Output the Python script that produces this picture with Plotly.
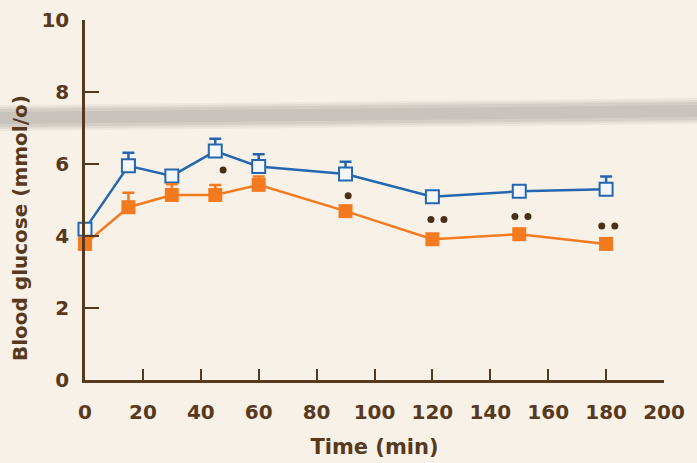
import plotly.graph_objects as go

# ---- data ----
time_min = [0, 15, 30, 45, 60, 90, 120, 150, 180]
blue_vals = [4.19, 5.95, 5.67, 6.36, 5.93, 5.72, 5.09, 5.24, 5.30]
blue_err = [0, 0.36, 0, 0.34, 0.34, 0.34, 0, 0, 0.35]
orange_vals = [3.78, 4.80, 5.14, 5.14, 5.42, 4.69, 3.91, 4.05, 3.78]
orange_err = [0, 0.40, 0.30, 0.28, 0.23, 0, 0, 0, 0]
sig_x = [47.7, 90.9, 119.5, 124.0, 148.5, 153.0, 178.5, 183.0]
sig_y = [5.83, 5.12, 4.46, 4.46, 4.54, 4.54, 4.28, 4.28]
x_ticks = [0, 20, 40, 60, 80, 100, 120, 140, 160, 180, 200]
y_ticks = [0, 2, 4, 6, 8, 10]

BROWN = "#57391d"
BLUE = "#2467b0"
ORANGE = "#f47a1f"
BG = "#f7f1e8"
FONT = "DejaVu Sans"

fig = go.Figure()

fig.add_trace(go.Scatter(
    x=time_min, y=blue_vals, mode="lines+markers",
    line=dict(color=BLUE, width=2.5),
    marker=dict(symbol="square", size=13, color="#f4f6fa",
                line=dict(color=BLUE, width=2)),
    error_y=dict(type="data", symmetric=False, array=blue_err,
                 arrayminus=[0] * len(blue_err), color=BLUE,
                 thickness=2.5, width=6),
    cliponaxis=False, showlegend=False))

fig.add_trace(go.Scatter(
    x=time_min, y=orange_vals, mode="lines+markers",
    line=dict(color=ORANGE, width=2.5),
    marker=dict(symbol="square", size=14, color=ORANGE,
                line=dict(color=ORANGE, width=0)),
    error_y=dict(type="data", symmetric=False, array=orange_err,
                 arrayminus=[0] * len(orange_err), color=ORANGE,
                 thickness=2.5, width=6),
    cliponaxis=False, showlegend=False))

fig.add_trace(go.Scatter(
    x=sig_x, y=sig_y, mode="markers",
    marker=dict(symbol="circle", size=7, color="#4a2f18"),
    cliponaxis=False, showlegend=False))

# wooden-plank style grey band in the background
L, T, R, B = 85, 20, 33, 83
W, H = 697, 463
pw, ph = W - L - R, H - T - B

def px2paper(px, py):
    return (px - L) / pw, (H - B - py) / ph

shapes = []
for half, op in [(13, 0.09), (11, 0.12), (9, 0.14), (6, 0.14)]:
    x0, y0a = px2paper(0, 118 - half)
    _, y0b = px2paper(0, 118 + half)
    x1, y1a = px2paper(W, 111 - half)
    _, y1b = px2paper(W, 111 + half)
    shapes.append(dict(
        type="path", xref="paper", yref="paper", layer="below",
        path=f"M {x0},{y0a} L {x1},{y1a} L {x1},{y1b} L {x0},{y0b} Z",
        fillcolor="#8a8480", opacity=op, line=dict(width=0)))

fig.update_layout(
    width=W, height=H,
    margin=dict(l=L, r=R, t=T, b=B, autoexpand=False),
    paper_bgcolor=BG, plot_bgcolor="rgba(0,0,0,0)",
    font=dict(family=FONT, color=BROWN, size=20),
    shapes=shapes,
    annotations=[dict(
        text="<b>Blood glucose (mmol/o)</b>", textangle=-90,
        xref="paper", yref="paper",
        x=(20 - L) / pw, y=(H - B - 228) / ph,
        showarrow=False, font=dict(size=20, color=BROWN, family=FONT),
        xanchor="center", yanchor="middle")],
)

fig.update_xaxes(
    range=[0, 200], tickvals=x_ticks,
    ticktext=[f"<b>{v}</b>" for v in x_ticks],
    showline=True, linecolor=BROWN, linewidth=2.5,
    ticks="inside", ticklen=11, tickwidth=2, tickcolor=BROWN,
    showgrid=False, zeroline=False, automargin=False,
    ticklabelstandoff=12,
    tickfont=dict(size=20, color=BROWN, family=FONT),
    title=dict(text="<b>Time (min)</b>", standoff=17,
               font=dict(size=21, color=BROWN, family=FONT)))

fig.update_yaxes(
    range=[0, 10], tickvals=y_ticks,
    ticktext=[f"<b>{v}</b>" for v in y_ticks],
    showline=True, linecolor=BROWN, linewidth=2.5,
    ticks="inside", ticklen=14, tickwidth=2, tickcolor=BROWN,
    showgrid=False, zeroline=False, automargin=False,
    ticklabelstandoff=9,
    tickfont=dict(size=20, color=BROWN, family=FONT))

fig.write_html(
    "out.html",
    config={"displayModeBar": False},
    post_script="document.body.style.margin='0';"
                "document.body.style.background='" + BG + "';")
